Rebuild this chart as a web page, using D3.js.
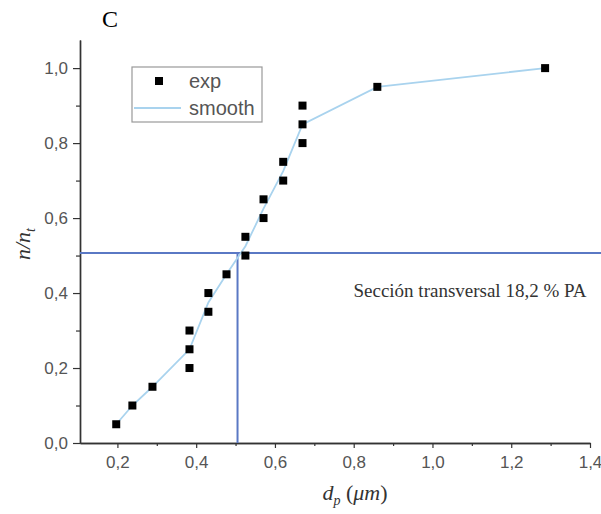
<!DOCTYPE html>
<html>
<head>
<meta charset="utf-8">
<script src="https://cdn.jsdelivr.net/npm/d3@7"></script>
<style>
  body { margin: 0; background: #fff; }
  svg { display: block; }
</style>
</head>
<body>
<div id="graph"></div>
<script>
var dp = [0.197, 0.238, 0.289, 0.383, 0.383, 0.383, 0.431, 0.431, 0.477, 0.525, 0.525,
          0.571, 0.571, 0.621, 0.621, 0.670, 0.670, 0.670, 0.860, 1.286];
var n  = [0.05, 0.10, 0.15, 0.20, 0.25, 0.30, 0.35, 0.40, 0.45, 0.50, 0.55,
          0.60, 0.65, 0.70, 0.75, 0.80, 0.85, 0.90, 0.95, 1.00];

// smooth curve
var smoothX = [0.197, 0.238, 0.289, 0.383, 0.431, 0.477, 0.525, 0.571, 0.621, 0.670, 0.860, 1.286];
var smoothY = [0.05, 0.10, 0.15, 0.25, 0.375, 0.45, 0.525, 0.625, 0.725, 0.85, 0.95, 1.00];

// guide lines
var guideX = 0.505;
var guideY = 0.507;

var xTicks = [0.2, 0.4, 0.6, 0.8, 1.0, 1.2, 1.4];
var xMinor = [0.3, 0.5, 0.7, 0.9, 1.1, 1.3];
var yTicks = [0.0, 0.2, 0.4, 0.6, 0.8, 1.0];
var yMinor = [0.1, 0.3, 0.5, 0.7, 0.9];

var width = 601, height = 514;

var x = d3.scaleLinear().domain([0.105, 1.4]).range([80, 590]);
var y = d3.scaleLinear().domain([0, 1.075]).range([443, 40]);

var fmt = function (d) { return d3.format(".1f")(d).replace(".", ","); };

var svg = d3.select("#graph").append("svg")
  .attr("width", width)
  .attr("height", height);

// panel letter
svg.append("text")
  .attr("x", 102).attr("y", 27)
  .style("font-family", "'Liberation Serif', serif")
  .style("font-size", "24px")
  .style("fill", "#000")
  .text("C");

// axes
svg.append("g")
  .attr("transform", "translate(0," + y(0) + ")")
  .call(d3.axisBottom(x).tickValues(xTicks).tickFormat(fmt).tickSize(5).tickPadding(8).tickSizeOuter(0));
svg.append("g")
  .attr("transform", "translate(0," + y(0) + ")")
  .call(d3.axisBottom(x).tickValues(xMinor).tickFormat("").tickSize(3).tickSizeOuter(0));

svg.append("g")
  .attr("transform", "translate(" + x.range()[0] + ",0)")
  .call(d3.axisLeft(y).tickValues(yTicks).tickFormat(fmt).tickSize(7).tickPadding(5).tickSizeOuter(0));
svg.append("g")
  .attr("transform", "translate(" + x.range()[0] + ",0)")
  .call(d3.axisLeft(y).tickValues(yMinor).tickFormat("").tickSize(4).tickSizeOuter(0));

svg.selectAll(".domain").style("stroke", "#333").style("stroke-width", 1.4);
svg.selectAll(".tick line").style("stroke", "#333").style("stroke-width", 1.2);
svg.selectAll(".tick text")
  .style("font-family", "'Liberation Sans', Arial, sans-serif")
  .style("font-size", "17px")
  .style("fill", "#555");

// guide lines
svg.append("line")
  .attr("x1", x.range()[0]).attr("x2", width)
  .attr("y1", y(guideY)).attr("y2", y(guideY))
  .style("stroke", "#5a78c4").style("stroke-width", 2);
svg.append("line")
  .attr("x1", x(guideX)).attr("x2", x(guideX))
  .attr("y1", y(0)).attr("y2", y(guideY))
  .style("stroke", "#5a78c4").style("stroke-width", 2);

// smooth line
var line = d3.line()
  .x(function (d, i) { return x(smoothX[i]); })
  .y(function (d, i) { return y(smoothY[i]); });
svg.append("path")
  .datum(smoothX)
  .attr("d", line)
  .style("fill", "none")
  .style("stroke", "#a9d3ee")
  .style("stroke-width", 1.8);

// experimental points
var s = 8;
svg.selectAll("rect.pt")
  .data(dp)
  .enter().append("rect")
  .attr("class", "pt")
  .attr("x", function (d) { return x(d) - s / 2; })
  .attr("y", function (d, i) { return y(n[i]) - s / 2; })
  .attr("width", s).attr("height", s)
  .style("fill", "#000");

// annotation
svg.append("text")
  .attr("x", 470).attr("y", 297)
  .attr("text-anchor", "middle")
  .style("font-family", "'Liberation Serif', serif")
  .style("font-size", "19px")
  .style("fill", "#333")
  .text("Sección transversal 18,2 % PA");

// legend
var lg = svg.append("g");
lg.append("rect")
  .attr("x", 132).attr("y", 67).attr("width", 130).attr("height", 55)
  .style("fill", "#fff").style("stroke", "#999").style("stroke-width", 1.2);
lg.append("rect")
  .attr("x", 159 - s / 2).attr("y", 81 - s / 2).attr("width", s).attr("height", s)
  .style("fill", "#000");
lg.append("line")
  .attr("x1", 134).attr("x2", 181).attr("y1", 108).attr("y2", 108)
  .style("stroke", "#a9d3ee").style("stroke-width", 1.8);
lg.selectAll("text.lg")
  .data(["exp", "smooth"])
  .enter().append("text")
  .attr("class", "lg")
  .attr("x", 189)
  .attr("y", function (d, i) { return 88 + i * 27; })
  .style("font-family", "'Liberation Sans', Arial, sans-serif")
  .style("font-size", "20px")
  .style("fill", "#555")
  .text(function (d) { return d; });

// axis titles
var yt = svg.append("text")
  .attr("transform", "translate(30,244) rotate(-90)")
  .attr("text-anchor", "middle")
  .style("font-family", "'Liberation Serif', serif")
  .style("font-style", "italic")
  .style("font-size", "22px")
  .style("fill", "#333");
yt.append("tspan").text("n/n");
yt.append("tspan").attr("dy", 5).style("font-size", "14px").text("t");

var xt = svg.append("text")
  .attr("x", 355).attr("y", 500)
  .attr("text-anchor", "middle")
  .style("font-family", "'Liberation Serif', serif")
  .style("font-size", "22px")
  .style("fill", "#333");
xt.append("tspan").style("font-style", "italic").text("d");
xt.append("tspan").attr("dy", 5).style("font-size", "14px").style("font-style", "italic").text("p");
xt.append("tspan").attr("dy", -5).text(" (");
xt.append("tspan").style("font-style", "italic").text("μm");
xt.append("tspan").text(")");
</script>
</body>
</html>
